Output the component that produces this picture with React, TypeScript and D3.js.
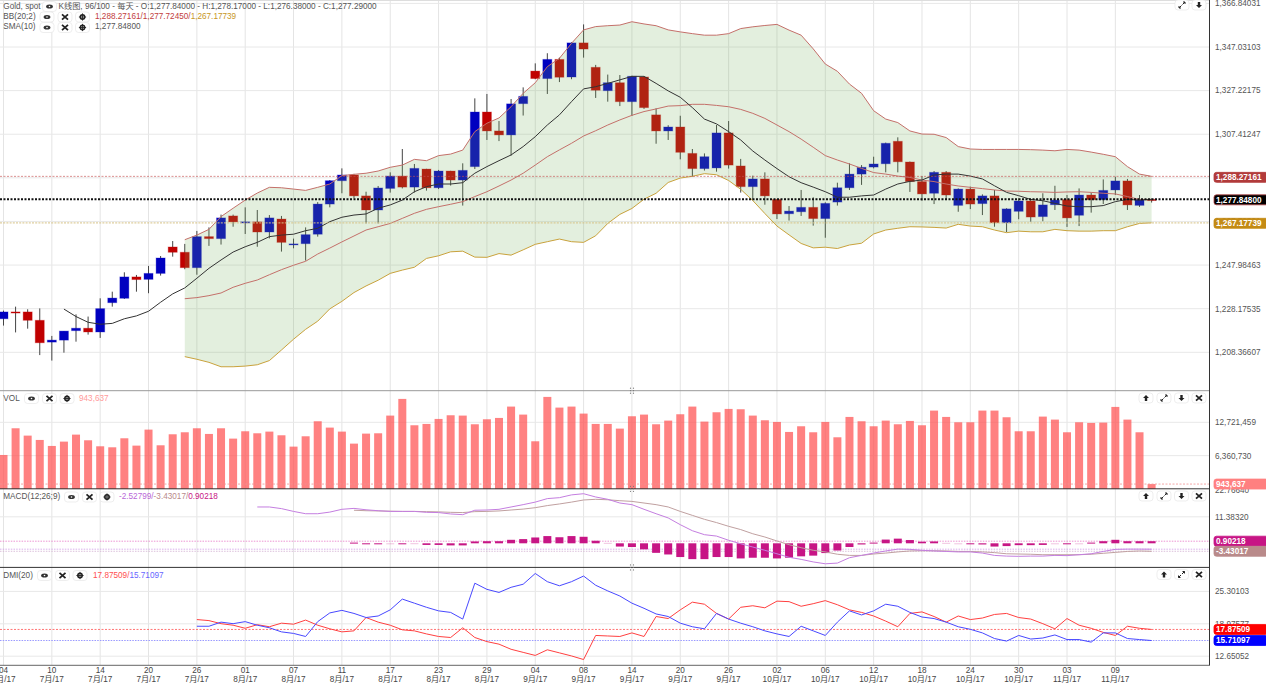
import { useEffect, useRef } from 'react';
import * as d3 from 'd3';

// Gold, spot - daily candles
const opens = [
  1223.6, 1226.7, 1226.7, 1222.9, 1213.0, 1213.9, 1218.2, 1219.3, 1217.6, 1230.9,
  1232.9, 1242.6, 1241.5, 1244.2, 1256.2, 1253.8, 1246.8, 1260.9, 1260.0, 1270.3,
  1267.1, 1267.6, 1263.0, 1268.9, 1257.3, 1257.7, 1262.0, 1275.7, 1286.3, 1288.9,
  1279.4, 1273.0, 1282.8, 1288.4, 1283.4, 1291.6, 1283.1, 1290.7, 1286.6, 1292.7,
  1317.5, 1308.9, 1307.1, 1321.3, 1336.1, 1332.7, 1341.4, 1333.4, 1348.9, 1337.8,
  1327.2, 1330.8, 1322.2, 1333.4, 1316.2, 1308.9, 1310.7, 1298.7, 1291.8, 1292.1,
  1308.0, 1293.0, 1283.6, 1287.1, 1277.8, 1271.3, 1272.2, 1274.2, 1269.1, 1276.6,
  1283.1, 1289.3, 1292.5, 1294.0, 1304.2, 1294.8, 1285.9, 1280.6, 1290.1, 1275.1,
  1282.5, 1275.9, 1279.4, 1267.2, 1272.4, 1277.1, 1270.0, 1275.4, 1277.7, 1270.6,
  1279.8, 1277.7, 1282.1, 1286.2, 1275.1, 1277.84,
];
const highs = [
  1227.3, 1229.1, 1227.9, 1228.3, 1215.8, 1218.0, 1225.6, 1224.6, 1232.9, 1235.9,
  1244.7, 1243.5, 1247.6, 1252.1, 1258.9, 1257.6, 1263.5, 1265.1, 1270.9, 1270.9,
  1274.2, 1273.0, 1270.7, 1270.3, 1260.0, 1265.1, 1276.6, 1286.6, 1291.9, 1289.4,
  1281.3, 1283.9, 1290.1, 1300.7, 1293.9, 1291.7, 1291.2, 1290.8, 1294.2, 1323.7,
  1325.7, 1313.4, 1323.4, 1328.7, 1339.6, 1344.2, 1342.2, 1349.2, 1357.3, 1338.9,
  1334.5, 1334.3, 1334.0, 1333.7, 1319.2, 1311.5, 1315.8, 1300.7, 1298.7, 1311.6,
  1313.4, 1296.2, 1288.6, 1290.1, 1277.9, 1274.8, 1282.1, 1278.8, 1276.5, 1285.4,
  1294.2, 1293.4, 1297.2, 1303.6, 1306.0, 1295.0, 1288.4, 1290.7, 1290.7, 1282.8,
  1283.6, 1280.1, 1282.1, 1273.8, 1278.3, 1277.8, 1280.6, 1284.0, 1279.8, 1282.8,
  1280.9, 1286.9, 1288.1, 1287.1, 1279.8, 1278.17,
];
const lows = [
  1220.5, 1217.4, 1219.1, 1207.1, 1204.6, 1208.2, 1213.2, 1216.4, 1214.9, 1229.1,
  1232.6, 1235.9, 1235.2, 1243.2, 1251.8, 1246.1, 1243.6, 1256.7, 1257.3, 1265.4,
  1262.1, 1256.3, 1260.1, 1254.1, 1255.6, 1250.0, 1260.9, 1274.2, 1280.6, 1278.3,
  1266.9, 1266.9, 1280.9, 1282.8, 1280.9, 1281.8, 1282.5, 1284.1, 1275.0, 1291.6,
  1304.8, 1304.3, 1297.7, 1315.9, 1332.4, 1325.7, 1331.1, 1332.4, 1342.2, 1323.9,
  1322.2, 1320.2, 1315.7, 1318.9, 1303.1, 1304.8, 1296.0, 1288.1, 1290.9, 1290.4,
  1291.8, 1280.9, 1277.5, 1275.4, 1268.9, 1268.2, 1270.3, 1265.9, 1260.4, 1275.0,
  1282.1, 1284.4, 1291.9, 1290.1, 1290.1, 1281.2, 1277.2, 1275.7, 1277.5, 1272.2,
  1273.4, 1270.7, 1265.4, 1263.0, 1268.8, 1267.7, 1267.9, 1273.0, 1265.3, 1265.7,
  1271.8, 1275.7, 1279.8, 1273.0, 1274.4, 1276.38,
];
const closes = [
  1226.7, 1226.2, 1222.9, 1212.7, 1213.9, 1218.0, 1219.3, 1217.6, 1228.2, 1233.0,
  1242.6, 1241.4, 1244.2, 1251.2, 1253.8, 1246.8, 1260.9, 1260.0, 1269.4, 1267.6,
  1267.6, 1263.0, 1269.4, 1258.3, 1257.6, 1261.8, 1275.7, 1286.3, 1288.9, 1279.4,
  1273.0, 1283.0, 1288.4, 1283.4, 1291.9, 1283.1, 1290.7, 1286.6, 1291.0, 1317.5,
  1308.9, 1307.1, 1321.2, 1324.6, 1332.7, 1341.4, 1333.3, 1348.9, 1346.1, 1327.4,
  1330.8, 1322.2, 1333.7, 1319.5, 1308.9, 1310.7, 1299.2, 1291.8, 1297.2, 1308.0,
  1293.4, 1283.6, 1287.1, 1279.4, 1271.2, 1272.5, 1274.2, 1269.1, 1276.0, 1283.1,
  1289.3, 1292.4, 1293.9, 1303.3, 1294.9, 1285.9, 1280.3, 1290.1, 1279.8, 1282.5,
  1275.7, 1279.4, 1267.2, 1273.5, 1277.1, 1269.8, 1275.3, 1277.5, 1269.4, 1279.8,
  1277.7, 1281.9, 1286.2, 1275.3, 1277.7, 1277.29,
];

// BB(20;2), starts at candle 15
const bbStart = 15;
const bbUpper = [
  1259.5, 1261.6, 1264.2, 1270.0, 1273.8, 1277.5, 1280.7, 1283.3, 1283.1, 1282.5, 1281.9, 1283.3,
  1284.8, 1288.6, 1289.2, 1289.7, 1290.7, 1292.4, 1293.4, 1296.0, 1295.4, 1297.7, 1298.4, 1300.2,
  1308.6, 1312.4, 1314.8, 1319.9, 1326.0, 1330.8, 1338.1, 1341.9, 1348.7, 1354.8, 1356.3, 1356.7,
  1357.0, 1358.5, 1357.5, 1356.7, 1354.8, 1353.9, 1353.1, 1352.4, 1352.4, 1353.1, 1355.4, 1356.2,
  1356.8, 1357.3, 1354.7, 1352.4, 1346.2, 1339.3, 1336.0, 1330.2, 1326.0, 1318.1, 1314.3, 1312.7,
  1308.9, 1307.5, 1307.4, 1305.9, 1301.8, 1300.7, 1300.5, 1300.5, 1300.5, 1300.5, 1300.4, 1300.2,
  1299.9, 1300.5, 1300.2, 1299.3, 1298.3, 1297.2, 1292.7, 1289.3, 1288.27161,
];
const bbMiddle = [
  1232.7, 1233.2, 1234.1, 1235.3, 1237.9, 1239.7, 1241.2, 1243.6, 1245.9, 1247.9, 1249.7, 1253.0,
  1255.7, 1258.5, 1261.2, 1263.9, 1265.4, 1266.9, 1269.2, 1271.5, 1273.3, 1274.5, 1275.6, 1276.8,
  1279.1, 1281.3, 1283.9, 1286.6, 1289.7, 1293.4, 1297.2, 1300.3, 1303.3, 1306.6, 1309.0, 1311.6,
  1313.9, 1316.0, 1317.7, 1318.9, 1320.2, 1320.4, 1321.0, 1321.0, 1320.5, 1319.9, 1318.7, 1316.9,
  1314.6, 1311.6, 1308.6, 1305.2, 1301.5, 1297.7, 1295.7, 1293.9, 1291.9, 1290.0, 1289.3, 1288.4,
  1287.8, 1286.6, 1285.9, 1284.8, 1283.9, 1283.3, 1282.7, 1282.1, 1281.6, 1281.5, 1281.3, 1281.2,
  1281.0, 1281.2, 1281.3, 1281.0, 1280.6, 1280.3, 1279.1, 1277.8, 1277.7245,
];
const bbLower = [
  1206.4, 1205.2, 1203.8, 1201.8, 1201.8, 1202.1, 1202.7, 1204.6, 1209.4, 1214.3, 1218.8, 1222.5,
  1228.1, 1231.5, 1235.5, 1238.5, 1241.1, 1244.2, 1245.7, 1247.0, 1251.0, 1252.2, 1254.0, 1254.3,
  1251.6, 1251.5, 1253.2, 1252.5, 1254.9, 1257.4, 1258.6, 1259.8, 1258.6, 1258.3, 1261.3, 1266.9,
  1271.0, 1273.7, 1277.9, 1280.6, 1285.5, 1287.5, 1288.3, 1289.5, 1289.0, 1286.4, 1282.4, 1277.3,
  1271.4, 1265.7, 1261.7, 1257.8, 1255.8, 1256.1, 1255.5, 1257.1, 1257.9, 1262.1, 1263.9, 1264.7,
  1265.4, 1265.3, 1265.1, 1264.8, 1266.5, 1265.7, 1265.4, 1263.9, 1262.7, 1263.4, 1263.1, 1263.1,
  1264.2, 1263.6, 1263.4, 1263.4, 1263.6, 1263.6, 1265.4, 1266.9, 1267.17739,
];

// SMA(10), starts at candle 5
const smaStart = 5;
const smaValues = [
  1228.0, 1224.6, 1222.0, 1221.1, 1221.5, 1223.6, 1224.9, 1227.0, 1231.1, 1234.9, 1237.6,
  1242.0, 1246.5, 1250.3, 1253.9, 1256.3, 1258.3, 1260.9, 1261.6, 1262.0, 1263.6, 1264.7,
  1267.7, 1269.7, 1270.7, 1271.2, 1273.8, 1275.3, 1277.5, 1281.3, 1283.6, 1284.8, 1284.8,
  1285.4, 1289.7, 1292.7, 1295.4, 1298.0, 1301.8, 1306.3, 1311.6, 1316.2, 1322.2, 1328.0,
  1329.0, 1330.5, 1332.1, 1333.7, 1333.7, 1330.5, 1327.1, 1324.2, 1319.5, 1314.3, 1312.1,
  1308.6, 1304.8, 1299.8, 1295.7, 1291.8, 1288.1, 1285.4, 1283.4, 1281.3, 1278.8, 1278.8,
  1279.4, 1279.8, 1282.5, 1284.8, 1286.0, 1286.6, 1288.9, 1289.3, 1289.3, 1288.4, 1287.1,
  1284.0, 1281.0, 1279.5, 1277.8, 1277.2, 1276.0, 1274.8, 1274.5, 1274.5, 1275.0, 1276.8,
  1277.8, 1277.5, 1277.848,
];

const volumes = [
  6491000, 11582000, 10182000, 9355000, 8210000, 9037000, 10373000, 9291000, 8146000, 7955000,
  9673000, 8273000, 11328000, 8337000, 10437000, 10819000, 11582000, 10501000, 11582000, 9610000,
  11010000, 10628000, 10946000, 10246000, 8082000, 10055000, 12919000, 11710000, 10946000, 8655000,
  10564000, 10628000, 14001000, 17183000, 12155000, 12410000, 13364000, 14064000, 14001000, 12346000,
  13301000, 13555000, 15719000, 14192000, 9101000, 17565000, 15528000, 15719000, 14383000, 12410000,
  12410000, 11519000, 13874000, 14192000, 12346000, 13046000, 14255000, 15719000, 12855000, 14637000,
  15274000, 15210000, 14001000, 13110000, 12792000, 10882000, 11964000, 10819000, 12792000, 9864000,
  13746000, 12919000, 11964000, 13046000, 12346000, 12983000, 12155000, 14955000, 13746000, 12728000,
  12728000, 14955000, 14955000, 13683000, 11010000, 11010000, 13810000, 13237000, 10819000, 12728000,
  12601000, 12664000, 15655000, 13237000, 10819000, 943637,
];

// MACD(12;26;9)
const macdStart = 21;
const macdLine = [
  15.6, 15.6, 14.9, 13.7, 12.7, 12.7, 13.4, 14.6, 15.0, 14.4, 14.0, 13.7, 13.7, 13.7,
  13.3, 13.2, 12.6, 12.3, 14.2, 14.3, 14.6, 15.6, 16.6, 17.7, 19.2, 19.6, 20.8, 21.3,
  19.9, 18.9, 17.3, 16.6, 14.6, 12.7, 10.9, 8.0, 5.4, 3.7, 3.1, 1.3, -0.2, -1.6, -3.0,
  -4.5, -6.0, -6.9, -8.0, -8.8, -8.5, -6.2, -5.2, -4.2, -3.3, -2.5, -2.6, -3.0, -3.3,
  -3.5, -3.7, -3.7, -4.2, -5.2, -5.5, -5.6, -5.5, -5.5, -5.2, -5.3, -4.9, -4.5, -3.5,
  -2.6, -2.5, -2.5, -2.52799,
];
const signalStart = 29;
const signalLine = [
  14.2, 14.0, 13.9, 13.8, 13.7, 13.7, 13.6, 13.5, 13.3, 13.2, 13.6, 13.7, 13.9, 14.3,
  14.7, 15.3, 16.2, 16.9, 17.7, 18.6, 18.9, 18.7, 18.3, 18.0, 17.3, 16.6, 15.6, 13.7,
  12.0, 10.3, 8.9, 7.3, 5.9, 4.1, 2.7, 1.0, -0.6, -1.9, -3.0, -3.7, -4.7, -5.2, -5.2,
  -4.6, -4.2, -3.7, -3.3, -3.2, -3.2, -3.3, -3.5, -3.5, -3.7, -4.0, -4.5, -4.6, -4.7,
  -4.9, -4.9, -4.9, -4.9, -4.7, -4.3, -3.9, -3.5, -3.3, -3.43017,
];
const histStart = 29;
const histValues = [
  0.3, -0.3, -0.3, -0.05, -0.3, 0.05, -0.7, -0.7, -0.9, -0.9, 0.8, 0.9, 0.9, 1.5, 1.8,
  2.5, 3.1, 2.6, 3.1, 2.8, 1.1, 0.2, -1.4, -1.6, -2.6, -4.1, -4.8, -5.9, -6.8, -6.8,
  -5.9, -5.9, -6.5, -6.2, -6.2, -6.5, -6.2, -5.6, -5.3, -4.2, -3.1, -1.6, -0.5, 0.3,
  1.6, 2.0, 1.4, 0.7, 0.8, 0.2, -0.1, -0.3, -0.5, -1.4, -1.2, -0.8, -0.8, -0.7, -0.1,
  -0.3, -0.05, 0.3, 0.9, 1.5, 0.9, 0.9, 0.90218,
];

// DMI(20), starts at candle 16
const dmiStart = 16;
const dmiPlus = [
  19.8, 19.6, 19.0, 18.7, 18.1, 18.8, 18.4, 19.1, 18.9, 19.7, 18.7, 18.0, 17.4, 17.6, 20.2,
  19.3, 18.7, 17.8, 17.6, 17.0, 16.5, 16.3, 18.2, 16.3, 15.5, 15.0, 14.0, 13.4, 12.8, 13.9,
  13.3, 12.7, 12.0, 16.7, 16.6, 16.5, 17.2, 16.5, 20.4, 20.0, 21.7, 23.2, 22.8, 21.0, 19.9,
  22.2, 22.5, 22.1, 23.4, 23.3, 22.4, 22.9, 23.5, 22.7, 21.7, 21.2, 20.5, 19.5, 18.4, 21.0,
  21.3, 20.4, 19.3, 20.5, 19.8, 20.1, 20.8, 21.0, 20.2, 19.9, 19.0, 18.0, 20.0, 18.7, 18.1,
  17.3, 16.7, 18.5, 18.1, 17.87509,
];
const dmiMinus = [
  18.5, 18.5, 19.3, 19.0, 19.4, 18.7, 18.2, 17.4, 17.1, 16.5, 19.4, 21.1, 21.6, 21.0, 20.2,
  20.5, 21.7, 23.8, 23.0, 22.2, 21.5, 21.2, 19.9, 26.9, 25.7, 25.1, 26.1, 26.7, 28.8, 27.2,
  26.4, 27.2, 28.3, 26.5, 25.4, 24.4, 23.0, 22.0, 20.9, 20.4, 19.1, 18.4, 18.0, 21.0, 19.9,
  19.1, 18.4, 17.6, 17.0, 16.5, 18.5, 17.6, 16.7, 19.3, 21.5, 20.7, 21.5, 22.8, 22.4, 21.2,
  20.3, 20.0, 19.3, 18.4, 17.9, 17.2, 16.1, 15.6, 16.7, 16.0, 16.2, 16.8, 15.9, 15.9, 15.4,
  17.2, 17.2, 16.1, 15.9, 15.71097,
];

// axis labels
const priceTicks = [1366.84031, 1347.03103, 1327.22175, 1307.41247, 1287.60319, 1267.79391, 1247.98463, 1228.17535, 1208.36607];
const volTicks = [12721459, 6360730];
const macdTicks = [22.7664, 11.3832];
const dmiTicks = [25.30103, 18.97577, 12.65052];
const dayLabels = ['04', '10', '14', '20', '26', '01', '07', '11', '17', '23', '29', '04', '08', '14', '20', '26', '02', '06', '12', '18', '24', '30', '03', '09'];
const monthLabels = ['7月/17', '7月/17', '7月/17', '7月/17', '7月/17', '8月/17', '8月/17', '8月/17', '8月/17', '8月/17', '8月/17', '9月/17', '9月/17', '9月/17', '9月/17', '9月/17', '10月/17', '10月/17', '10月/17', '10月/17', '10月/17', '10月/17', '11月/17', '11月/17'];

const lastPrice = 1277.848;
const FONT = '"Liberation Sans", "Noto Sans CJK SC", sans-serif';
const TEXT = '#555';
const RIGHT = 1209.5;

type Sel = d3.Selection<SVGGElement, unknown, null, undefined>;

function label(g: Sel, x: number, y: number, txt: string, color = TEXT, anchor = 'start', weight = 'normal', size = 8.2) {
  return g.append('text')
    .attr('x', x)
    .attr('y', y)
    .attr('dy', '0.35em')
    .attr('text-anchor', anchor)
    .attr('font-size', size)
    .attr('font-weight', weight)
    .attr('fill', color)
    .text(txt);
}

// small toolbar buttons
function button(g: Sel, cx: number, cy: number, kind: string) {
  const b = g.append('g').attr('transform', `translate(${cx},${cy})`);
  b.append('rect')
    .attr('x', -7).attr('y', -5).attr('width', 14).attr('height', 10).attr('rx', 3)
    .attr('fill', '#fff').attr('stroke', '#e6e6e6').attr('stroke-width', 0.7);
  if (kind === 'eye') {
    b.append('ellipse').attr('rx', 3.4).attr('ry', 2).attr('fill', '#333');
    b.append('circle').attr('r', 0.8).attr('fill', '#fff');
  } else if (kind === 'x') {
    b.append('path').attr('d', 'M-3,-2.6L3,2.6M3,-2.6L-3,2.6').attr('stroke', '#222').attr('stroke-width', 1.8);
  } else if (kind === 'gear') {
    b.append('circle').attr('r', 2.2).attr('fill', 'none').attr('stroke', '#222').attr('stroke-width', 1.5);
    b.append('path').attr('d', 'M0,-3.6V3.6M-3.6,0H3.6').attr('stroke', '#222').attr('stroke-width', 0.9);
  } else if (kind === 'up') {
    b.append('path').attr('d', 'M0,-3L3,0H1.2V3H-1.2V0H-3Z').attr('fill', '#222');
  } else if (kind === 'down') {
    b.append('path').attr('d', 'M0,3L3,0H1.2V-3H-1.2V0H-3Z').attr('fill', '#222');
  } else if (kind === 'expand') {
    b.append('path').attr('d', 'M0.5,-0.5L3,-3M3,-3H1M3,-3V-1M-0.5,0.5L-3,3M-3,3H-1M-3,3V1').attr('stroke', '#222').attr('fill', 'none').attr('stroke-width', 1);
  }
}

// coloured value box on the right axis
function valueBox(g: Sel, y: number, txt: string, fill: string, stroke = fill, h = 10) {
  g.append('rect')
    .attr('x', 1214).attr('y', y - h / 2).attr('width', 54).attr('height', h).attr('rx', 2.5)
    .attr('fill', fill).attr('stroke', stroke).attr('stroke-width', 0.8);
  label(g, 1216, y, txt, '#fff', 'start', 'bold');
}

function hLine(g: Sel, y: number, color: string, width: number, dash: string, opacity = 1) {
  g.append('line')
    .attr('x1', 0).attr('x2', RIGHT).attr('y1', y).attr('y2', y)
    .attr('stroke', color).attr('stroke-width', width).attr('stroke-dasharray', dash).attr('opacity', opacity);
}

function grip(g: Sel, y: number) {
  [-1.5, 1.5].forEach(dx => [-2.5, 0, 2.5].forEach(dy => {
    g.append('circle').attr('cx', 632 + dx).attr('cy', y + dy).attr('r', 0.6).attr('fill', '#777');
  }));
}

export default function App() {
  const svgRef = useRef<SVGSVGElement>(null);

  useEffect(() => {
    if (!svgRef.current) return;
    const svg = d3.select(svgRef.current);
    svg.selectAll('*').remove();
    const root = svg.append('g').attr('font-family', FONT) as unknown as Sel;

    const x = d3.scaleLinear().domain([0, 95]).range([3.5, 1151.6]);
    const yPrice = d3.scaleLinear().domain([1208.36607, 1347.03103]).range([352.3, 47]);
    const yVol = d3.scaleLinear().domain([0, 12721459]).range([489, 422.3]);
    const yMacd = d3.scaleLinear().domain([0, 11.3832]).range([543.3, 516.8]);
    const yDmi = d3.scaleLinear().domain([12.65052, 25.30103]).range([656.2, 591.4]);

    const series = (vals: number[], start: number) => vals.map((v, i) => [start + i, v] as [number, number]);

    // vertical grid
    dayLabels.forEach((_, k) => {
      root.append('line')
        .attr('x1', x(k * 4)).attr('x2', x(k * 4)).attr('y1', 0).attr('y2', 665)
        .attr('stroke', '#e4e4e4').attr('stroke-width', 1);
    });

    // horizontal grid
    const hGrid = (y: number) => root.append('line')
      .attr('x1', 0).attr('x2', RIGHT).attr('y1', y).attr('y2', y)
      .attr('stroke', '#e8e8e8').attr('stroke-width', 1);
    priceTicks.forEach(t => hGrid(yPrice(t)));
    volTicks.forEach(t => hGrid(yVol(t)));
    hGrid(yMacd(macdTicks[1]));
    dmiTicks.forEach(t => hGrid(yDmi(t)));

    // candles, the band goes over them
    const idx = d3.range(opens.length);
    const up = (i: number) => closes[i] >= opens[i];
    root.append('g').selectAll('line').data(idx).enter().append('line')
      .attr('x1', d => x(d)).attr('x2', d => x(d))
      .attr('y1', d => yPrice(highs[d])).attr('y2', d => yPrice(lows[d]))
      .attr('stroke', '#444').attr('stroke-width', 1);
    root.append('g').selectAll('rect').data(idx).enter().append('rect')
      .attr('x', d => x(d) - 4.5)
      .attr('width', 9)
      .attr('y', d => yPrice(Math.max(opens[d], closes[d])))
      .attr('height', d => Math.max(1, Math.abs(yPrice(opens[d]) - yPrice(closes[d]))))
      .attr('fill', d => (up(d) ? '#0000c0' : '#c00000'))
      .attr('stroke', d => (up(d) ? 'rgba(0,0,192,.3)' : 'rgba(192,0,0,.3)'))
      .attr('stroke-width', 1);

    const bandArea = d3.area<number>()
      .x((_, i) => x(bbStart + i))
      .y0((_, i) => yPrice(bbLower[i]))
      .y1(d => yPrice(d));
    root.append('path').attr('d', bandArea(bbUpper)!).attr('fill', 'rgba(115,175,90,.2)');

    const priceLine = d3.line<[number, number]>().x(d => x(d[0])).y(d => yPrice(d[1]));
    const drawPrice = (vals: number[], start: number, color: string, w = 1) => root.append('path')
      .attr('d', priceLine(series(vals, start))!)
      .attr('fill', 'none').attr('stroke', color).attr('stroke-width', w);
    drawPrice(bbUpper, bbStart, '#c4706a');
    drawPrice(bbMiddle, bbStart, '#c4706a');
    drawPrice(bbLower, bbStart, '#c9a23c');
    drawPrice(smaValues, smaStart, '#333');

    hLine(root, yPrice(bbUpper[bbUpper.length - 1]), '#c85050', 0.8, '2,1.5', 0.8);
    hLine(root, yPrice(lastPrice), '#111', 2, '2,1.5');
    hLine(root, yPrice(bbLower[bbLower.length - 1]), '#d8c486', 1.2, '2,1.2', 0.8);

    // volume
    root.append('g').selectAll('rect').data(volumes).enter().append('rect')
      .attr('x', (_, i) => x(i) - 4)
      .attr('width', 8)
      .attr('y', d => yVol(d))
      .attr('height', d => yVol(0) - yVol(d))
      .attr('fill', '#ff5050').attr('opacity', 0.72);
    hLine(root, yVol(volumes[volumes.length - 1]), '#f09090', 0.8, '2,1.5');

    // MACD
    hLine(root, yMacd(histValues[histValues.length - 1]), '#e878c8', 0.8, '1.5,1.2');
    hLine(root, yMacd(macdLine[macdLine.length - 1]), '#cf9ae6', 0.8, '1.5,1.2');
    hLine(root, yMacd(signalLine[signalLine.length - 1]), '#d2b0d0', 0.8, '1.5,1.2');
    const histData = series(histValues, histStart);
    root.append('g').selectAll('rect').data(histData).enter().append('rect')
      .attr('x', d => x(d[0]) - 4)
      .attr('width', 8)
      .attr('y', d => Math.min(yMacd(d[1]), yMacd(0)))
      .attr('height', d => Math.max(1, Math.abs(yMacd(d[1]) - yMacd(0))))
      .attr('fill', '#c71585')
      .attr('opacity', d => (Math.abs(d[1]) < 0.25 ? 0.25 : 1));
    const macdPath = d3.line<[number, number]>().x(d => x(d[0])).y(d => yMacd(d[1]));
    root.append('path').attr('d', macdPath(series(signalLine, signalStart))!)
      .attr('fill', 'none').attr('stroke', '#c0a0a0').attr('stroke-width', 1);
    root.append('path').attr('d', macdPath(series(macdLine, macdStart))!)
      .attr('fill', 'none').attr('stroke', '#c47ee0').attr('stroke-width', 1);

    // DMI
    const plusLast = dmiPlus[dmiPlus.length - 1];
    const minusLast = dmiMinus[dmiMinus.length - 1];
    hLine(root, yDmi(plusLast), '#ff5050', 0.8, '2,1.5');
    hLine(root, yDmi(minusLast), '#9a9aff', 1.2, '1.5,1.2');
    const dmiPath = d3.line<[number, number]>().x(d => x(d[0])).y(d => yDmi(d[1]));
    root.append('path').attr('d', dmiPath(series(dmiPlus, dmiStart))!)
      .attr('fill', 'none').attr('stroke', '#ff4040').attr('stroke-width', 1);
    root.append('path').attr('d', dmiPath(series(dmiMinus, dmiStart))!)
      .attr('fill', 'none').attr('stroke', '#4848ff').attr('stroke-width', 1);

    // panel frames
    const sep = (y: number, color: string, w: number) => root.append('line')
      .attr('x1', 0).attr('x2', RIGHT).attr('y1', y).attr('y2', y)
      .attr('stroke', color).attr('stroke-width', w);
    sep(0.5, '#ddd', 1);
    sep(390.7, '#999', 1);
    sep(488.8, '#333', 1);
    sep(567.4, '#333', 1);
    sep(665.3, '#666', 1);
    root.append('line').attr('x1', RIGHT).attr('x2', RIGHT).attr('y1', 0).attr('y2', 665.5)
      .attr('stroke', '#333').attr('stroke-width', 1);
    grip(root, 390.7);
    grip(root, 488.8);
    grip(root, 567.4);

    // right axis labels
    const fmt = d3.format(',.5f');
    priceTicks.forEach(t => label(root, 1215, yPrice(t), fmt(t)));
    volTicks.forEach(t => label(root, 1215, yVol(t), d3.format(',')(t)));
    macdTicks.forEach(t => label(root, 1215, yMacd(t), t.toFixed(5)));
    dmiTicks.forEach(t => label(root, 1215, yDmi(t), t.toFixed(5)));

    valueBox(root, yPrice(bbUpper[bbUpper.length - 1]) + 1, fmt(bbUpper[bbUpper.length - 1]), '#b23b3b');
    valueBox(root, yPrice(lastPrice) + 0.5, fmt(lastPrice), '#000', '#b04040');
    valueBox(root, yPrice(bbLower[bbLower.length - 1]) + 0.5, fmt(bbLower[bbLower.length - 1]), '#c48b14');
    valueBox(root, yVol(volumes[volumes.length - 1]), d3.format(',')(volumes[volumes.length - 1]), '#ff8080');
    valueBox(root, yMacd(histValues[histValues.length - 1]), histValues[histValues.length - 1].toFixed(5), '#c71585');
    valueBox(root, yMacd(signalLine[signalLine.length - 1]), signalLine[signalLine.length - 1].toFixed(5), '#b98a8a');
    valueBox(root, yDmi(plusLast), plusLast.toFixed(5), '#ff0000');
    valueBox(root, yDmi(minusLast), minusLast.toFixed(5), '#0000ff');

    // date axis
    dayLabels.forEach((d, k) => {
      label(root, x(k * 4), 670, d, '#444', 'middle');
      label(root, x(k * 4), 679.5, monthLabels[k], '#444', 'middle');
    });

    // header rows
    label(root, 3.3, 6.5, 'Gold, spot');
    button(root, 49.5, 6.5, 'eye');
    label(root, 58.5, 6.5, 'K线图, 96/100 - 每天 - O:1,277.84000 - H:1,278.17000 - L:1,276.38000 - C:1,277.29000');
    label(root, 3.3, 16.5, 'BB(20;2)');
    button(root, 47, 17, 'eye');
    button(root, 65, 17, 'x');
    button(root, 82.5, 17, 'gear');
    const bbText = label(root, 95, 16.5, '');
    bbText.append('tspan').attr('fill', '#c23c3c').text(`${fmt(bbUpper[bbUpper.length - 1])}/${fmt(bbMiddle[bbMiddle.length - 1])}/`);
    bbText.append('tspan').attr('fill', '#c8961e').text(fmt(bbLower[bbLower.length - 1]));
    label(root, 3.3, 26.5, 'SMA(10)');
    button(root, 47, 27.5, 'eye');
    button(root, 65, 27.5, 'x');
    button(root, 82.5, 27.5, 'gear');
    label(root, 95, 26.5, fmt(lastPrice));

    label(root, 3.3, 397.7, 'VOL');
    button(root, 31.5, 398.5, 'eye');
    button(root, 49.5, 398.5, 'x');
    button(root, 67, 398.5, 'gear');
    label(root, 79, 397.7, d3.format(',')(volumes[volumes.length - 1]), '#ff9a9a');

    label(root, 3.3, 496, 'MACD(12;26;9)');
    button(root, 71.5, 497, 'eye');
    button(root, 89.5, 497, 'x');
    button(root, 107, 497, 'gear');
    const macdText = label(root, 119, 496, '');
    macdText.append('tspan').attr('fill', '#b967d8').text('-2.52799/');
    macdText.append('tspan').attr('fill', '#b98a8a').text('-3.43017/');
    macdText.append('tspan').attr('fill', '#c71585').text('0.90218');

    label(root, 3.3, 575, 'DMI(20)');
    button(root, 44.5, 575.5, 'eye');
    button(root, 62.5, 575.5, 'x');
    button(root, 80, 575.5, 'gear');
    const dmiText = label(root, 93, 575, '');
    dmiText.append('tspan').attr('fill', '#ff5050').text(`${plusLast.toFixed(5)}/`);
    dmiText.append('tspan').attr('fill', '#6666ff').text(minusLast.toFixed(5));

    // panel buttons, top right
    button(root, 1182, 5, 'expand');
    button(root, 1199, 5, 'down');
    ['up', 'expand', 'down', 'x'].forEach((k, i) => button(root, [1146, 1164, 1181.5, 1199][i], 398, k));
    ['up', 'expand', 'down', 'x'].forEach((k, i) => button(root, [1146, 1164, 1181.5, 1199][i], 496, k));
    ['up', 'expand', 'x'].forEach((k, i) => button(root, [1164, 1181.5, 1199][i], 574.5, k));
  }, []);

  return (
    <svg
      ref={svgRef}
      width={1266}
      height={684}
      style={{ position: 'absolute', left: 0, top: 0, background: '#fff' }}
    />
  );
}
